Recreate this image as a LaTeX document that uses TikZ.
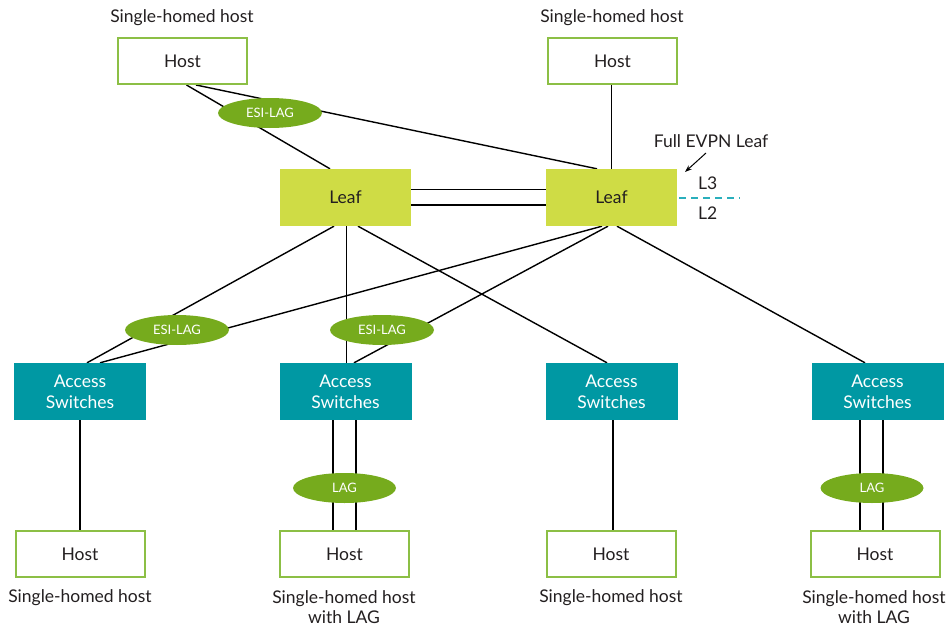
\documentclass[tikz,border=0pt]{standalone}
\usepackage{fontspec}
\setmainfont{Lato}
\usetikzlibrary{shapes.geometric,backgrounds,calc,arrows.meta}
\definecolor{hostgreen}{HTML}{8CBF45}
\definecolor{lagreen}{HTML}{76AB1D}
\definecolor{leafcol}{HTML}{CFDC45}
\definecolor{acccol}{HTML}{0098A3}
\definecolor{dashcol}{HTML}{2AAFBC}
\definecolor{txt}{HTML}{231F20}
\begin{document}
\begin{tikzpicture}[x=1pt,y=-1pt,
  font=\fontsize{17.5}{20}\selectfont, text=txt,
  hostbox/.style={draw=hostgreen, line width=2pt, fill=white, minimum width=129pt, minimum height=46pt, inner sep=0pt},
  leafbox/.style={fill=leafcol, minimum width=131pt, minimum height=57pt, inner sep=0pt},
  accbox/.style={fill=acccol, text=white, minimum width=132pt, minimum height=57pt, inner sep=0pt, align=center, font=\fontsize{17.5}{21}\selectfont},
  lagell/.style={ellipse, fill=lagreen, text=white, minimum width=104pt, minimum height=30pt, inner sep=0pt, font=\fontsize{13}{15}\selectfont},
  lbl/.style={inner sep=0pt, align=center, font=\fontsize{17.5}{20}\selectfont},
  link/.style={line width=1.4pt, draw=black},
  dashlink/.style={draw=dashcol, line width=2pt, dash pattern=on 7pt off 5pt}
]
\useasboundingbox (0,0) rectangle (948,626);

% top hosts
\node[hostbox] (hTL) at (182.5,61) {Host};
\node[hostbox] (hTR) at (612.5,61) {Host};
\node[lbl] (lTL) at (182,18) {Single-homed host};
\node[lbl] (lTR) at (612,18) {Single-homed host};

% leaves
\node[leafbox] (leafL) at (345.5,197.5) {Leaf};
\node[leafbox] (leafR) at (611.5,197.5) {Leaf};

\node[lagell] (esiT) at (270,113) {ESI-LAG};

% access
\node[accbox] (accA) at (80,391.5) {Access\\Switches};
\node[accbox] (accB) at (345.5,391.5) {Access\\Switches};
\node[accbox] (accC) at (611.5,391.5) {Access\\Switches};
\node[accbox] (accD) at (877.5,391.5) {Access\\Switches};

\node[lagell] (esiA) at (177,330) {ESI-LAG};
\node[lagell] (esiB) at (382,330) {ESI-LAG};

% bottom hosts
\node[hostbox] (hB1) at (80,554) {Host};
\node[hostbox] (hB2) at (344.5,554) {Host};
\node[hostbox] (hB3) at (611,554) {Host};
\node[hostbox] (hB4) at (875,554) {Host};

\node[lagell, minimum width=103pt] (lagB) at (344.5,488) {LAG};
\node[lagell, minimum width=103pt] (lagD) at (872,488) {LAG};

\node[lbl] (lB1) at (80,598) {Single-homed host};
\node[lbl] (lB2) at (344,607) {Single-homed host\\with LAG};
\node[lbl] (lB3) at (611,598) {Single-homed host};
\node[lbl] (lB4) at (874,607) {Single-homed host\\with LAG};

% annotations
\node[lbl] (fel) at (711,141) {Full EVPN Leaf};
\node[lbl, anchor=west] (l3) at (698,183) {L3};
\node[lbl, anchor=west] (l2) at (698,213) {L2};
\coordinate (dashend) at (740,197.5);
\coordinate (arrs) at (706,153);
\coordinate (arre) at (685,172);

\coordinate (b2l) at ($(hB2.north)+(-11.5,0)$);
\coordinate (b2r) at ($(hB2.north)+(11.5,0)$);
\coordinate (b3) at ($(hB3.north)+(2,0)$);
\coordinate (b4l) at ($(hB4.north)+(-15,0)$);
\coordinate (b4r) at ($(hB4.north)+(8,0)$);

\begin{pgfonlayer}{background}
  \draw[link] ($(hTL.south)+(4,0)$) -- ($(leafL.north)+(-15.5,0)$);
  \draw[link] ($(hTL.south)+(13.5,0)$) -- ($(leafR.north)+(-14.5,0)$);
  \draw[link] (leafR.north |- hTR.south) -- (leafR.north);
  \draw[link] ($(leafL.east)+(0,-8)$) -- ($(leafR.west)+(0,-8)$);
  \draw[link] ($(leafL.east)+(0,7.5)$) -- ($(leafR.west)+(0,7.5)$);
  \draw[link] ($(leafL.south)+(-11.5,0)$) -- ($(accA.north)+(7,0)$);
  \draw[link] ($(leafR.south)+(-9.5,0)$) -- ($(accA.north)+(20,0)$);
  \draw[link] ($(leafL.south)+(1,0)$) -- ($(accB.north)+(1,0)$);
  \draw[link] ($(leafR.south)+(-3.5,0)$) -- ($(accB.north)+(8.5,0)$);
  \draw[link] ($(leafL.south)+(12.5,0)$) -- ($(accC.north)+(-4.5,0)$);
  \draw[link] ($(leafR.south)+(5.5,0)$) -- ($(accD.north)+(-12.5,0)$);
  \draw[link] (accA.south) -- (hB1.north);
  \draw[link] (b2l |- accB.south) -- (b2l);
  \draw[link] (b2r |- accB.south) -- (b2r);
  \draw[link] (b3 |- accC.south) -- (b3);
  \draw[link] (b4l |- accD.south) -- (b4l);
  \draw[link] (b4r |- accD.south) -- (b4r);
\end{pgfonlayer}

\draw[dashlink] ($(leafR.east)+(2,0)$) -- (dashend);
\draw[line width=1pt, -{Stealth[length=7pt,width=5pt]}] (arrs) -- (arre);
\end{tikzpicture}
\end{document}
